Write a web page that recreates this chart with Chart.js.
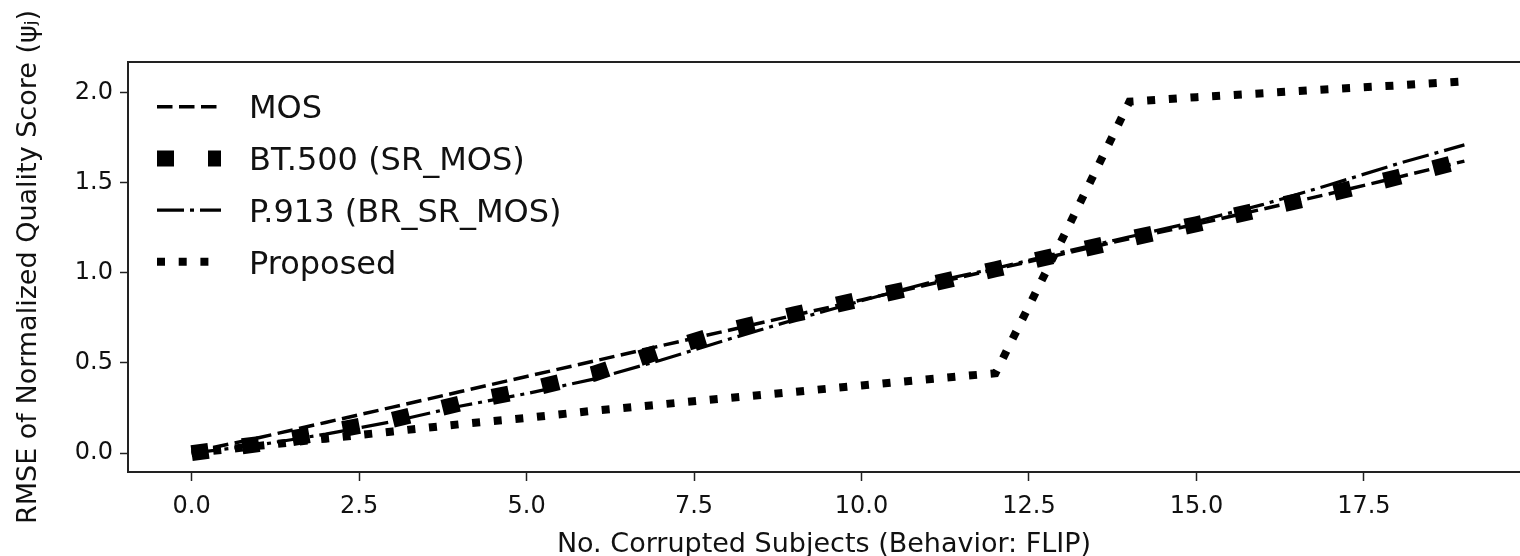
<!DOCTYPE html>
<html lang="en">
<head>
<meta charset="UTF-8">
<title>RMSE vs corrupted subjects</title>
<script src="https://cdn.jsdelivr.net/npm/chart.js"></script>
<style>
    html, body {
        margin: 0;
        padding: 0;
        background: #fff;
        overflow: hidden;
    }

    #wrap {
        width: 1520px;
        height: 556px;
        overflow: hidden;
    }
</style>
</head>
<body>
<div id="wrap"><canvas id="rmseChart" width="1520" height="562"></canvas></div>
<script>
    // values
    const subjects = [0, 1, 2, 3, 4, 5, 6, 7, 8, 9, 10, 11, 12, 13, 14, 15, 16, 17, 18, 19];
    const mosRmse = [0.005, 0.085, 0.17, 0.255, 0.34, 0.425, 0.51, 0.595, 0.68, 0.765, 0.85, 0.935, 1.02, 1.105, 1.19, 1.27, 1.355, 1.44, 1.53, 1.62];
    const bt500Rmse = [0.0, 0.05, 0.115, 0.185, 0.275, 0.35, 0.44, 0.565, 0.68, 0.77, 0.855, 0.935, 1.02, 1.105, 1.19, 1.27, 1.355, 1.44, 1.53, 1.625];
    const p913Rmse = [0.0, 0.045, 0.105, 0.175, 0.26, 0.33, 0.41, 0.515, 0.63, 0.74, 0.845, 0.945, 1.025, 1.115, 1.2, 1.285, 1.38, 1.49, 1.605, 1.71];
    const proposedRmse = [0.0, 0.04, 0.08, 0.12, 0.16, 0.195, 0.235, 0.27, 0.305, 0.34, 0.375, 0.41, 0.443, 1.19, 1.95, 1.975, 1.997, 2.02, 2.04, 2.063];
    const seriesNames = ['MOS', 'BT.500 (SR_MOS)', 'P.913 (BR_SR_MOS)', 'Proposed'];
    const xTicks = [0, 2.5, 5, 7.5, 10, 12.5, 15, 17.5];
    const yTicks = [0, 0.5, 1, 1.5, 2];

    // the original axes run to 19.95, the picture is cropped at about 19.83
    const xFullMax = 19.95;

    const toPoints = ys => subjects.map((x, i) => ({ x: x, y: ys[i] }));
    const FONT = 'DejaVu Sans';
    const INK = '#111';

    // matplotlib-like box around the axes (right side falls outside the crop)
    const frameBox = {
        id: 'frameBox',
        afterDraw(chart) {
            const { ctx, chartArea: a } = chart;
            const right = chart.scales.x.getPixelForValue(xFullMax);
            ctx.save();
            ctx.strokeStyle = '#222';
            ctx.lineWidth = 2;
            ctx.strokeRect(a.left, a.top, right - a.left, a.bottom - a.top);
            ctx.restore();
        }
    };

    // legend drawn with the same dash patterns as the lines
    const lineLegend = {
        id: 'lineLegend',
        afterDatasetsDraw(chart) {
            const ctx = chart.ctx;
            chart.data.datasets.forEach((ds, i) => {
                const y = 106.7 + i * 51.7;
                ctx.save();
                ctx.strokeStyle = ds.borderColor;
                ctx.lineWidth = ds.borderWidth;
                ctx.lineCap = 'butt';
                ctx.setLineDash(ds.borderDash || []);
                ctx.beginPath();
                ctx.moveTo(157, y);
                ctx.lineTo(221, y);
                ctx.stroke();
                ctx.setLineDash([]);
                ctx.fillStyle = INK;
                ctx.font = '32px "' + FONT + '"';
                ctx.textBaseline = 'alphabetic';
                ctx.fillText(ds.label, 249, y + 11.7);
                ctx.restore();
            });
        }
    };

    const ctx = document.getElementById('rmseChart').getContext('2d');
    new Chart(ctx, {
        type: 'line',
        data: {
            datasets: [
                {
                    label: seriesNames[0],
                    data: toPoints(mosRmse),
                    borderColor: '#000',
                    borderWidth: 3.5,
                    borderDash: [15.5, 6.5],
                    order: 4
                },
                {
                    label: seriesNames[1],
                    data: toPoints(bt500Rmse),
                    borderColor: '#000',
                    borderWidth: 16,
                    borderDash: [17, 34],
                    order: 3
                },
                {
                    label: seriesNames[2],
                    data: toPoints(p913Rmse),
                    borderColor: '#000',
                    borderWidth: 3.2,
                    borderDash: [27, 6, 4, 6],
                    order: 2
                },
                {
                    label: seriesNames[3],
                    data: toPoints(proposedRmse),
                    borderColor: '#000',
                    borderWidth: 8,
                    borderDash: [8, 13.7],
                    order: 1
                }
            ]
        },
        options: {
            responsive: false,
            animation: false,
            elements: {
                point: { radius: 0, hoverRadius: 0 },
                line: { tension: 0, fill: false, borderCapStyle: 'butt' }
            },
            layout: { padding: { top: 62, right: 0, left: 0, bottom: 0 } },
            plugins: {
                legend: { display: false },
                tooltip: { enabled: false }
            },
            scales: {
                x: {
                    type: 'linear',
                    min: -0.95,
                    max: 19.83,
                    afterBuildTicks: s => { s.ticks = xTicks.map(v => ({ value: v })); },
                    afterFit: s => { s.height = 90; },
                    grid: { drawOnChartArea: false, drawTicks: true, tickLength: 9, tickColor: '#222', tickWidth: 1.5 },
                    border: { color: '#222', width: 2 },
                    ticks: {
                        font: { family: FONT, size: 24 },
                        color: INK,
                        padding: 11,
                        maxRotation: 0,
                        autoSkip: false,
                        callback: v => v.toFixed(1)
                    },
                    title: {
                        display: true,
                        text: 'No. Corrupted Subjects (Behavior: FLIP)',
                        font: { family: FONT, size: 27 },
                        color: INK,
                        padding: { top: 0, bottom: 1 }
                    }
                },
                y: {
                    type: 'linear',
                    min: -0.105,
                    max: 2.17,
                    afterBuildTicks: s => { s.ticks = yTicks.map(v => ({ value: v })); },
                    afterFit: s => { s.width = 128; },
                    grid: { drawOnChartArea: false, drawTicks: true, tickLength: 8, tickColor: '#222', tickWidth: 1.5 },
                    border: { color: '#222', width: 2 },
                    ticks: {
                        font: { family: FONT, size: 24 },
                        color: INK,
                        padding: 7,
                        callback: v => v.toFixed(1)
                    },
                    title: {
                        display: true,
                        text: 'RMSE of Normalized Quality Score (ψⱼ)',
                        font: { family: FONT, size: 27 },
                        color: INK,
                        padding: { top: 13, bottom: 0 }
                    }
                }
            }
        },
        plugins: [frameBox, lineLegend]
    });
</script>
</body>
</html>
